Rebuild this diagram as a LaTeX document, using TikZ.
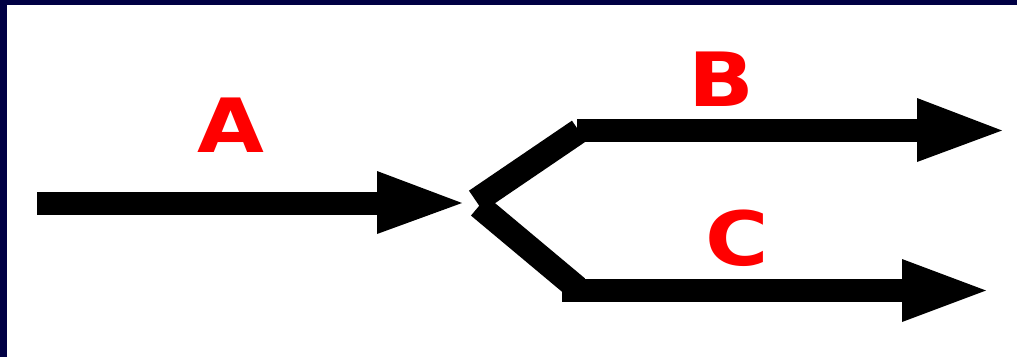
\documentclass[tikz,border=0pt]{standalone}
\usepackage{fontspec}
\setmainfont{DejaVu Sans}
\definecolor{navy}{RGB}{0,0,68}
\begin{document}
\begin{tikzpicture}[x=1pt,y=-1pt,
  shaft/.style={line width=23pt},
  diag/.style={line width=25pt},
  head/.style={fill=black},
  lbl/.style={text=red,inner sep=0pt,xscale=1.2,yscale=1.04,font=\fontsize{72}{72}\selectfont\bfseries}]
\useasboundingbox (0,0) rectangle (1017,357);
\fill[white] (0,0) rectangle (1017,357);
\fill[navy] (0,0) rectangle (1017,5);
\fill[navy] (0,0) rectangle (7,357);
% arrow A
\coordinate (a0) at (37,203);
\coordinate (a1) at (378,203);
\draw[shaft] (a0) -- (a1);
\fill[head] (377,171) -- (462,203) -- (377,234) -- cycle;
% upper branch
\coordinate (u0) at (476,201);
\coordinate (u1) at (579,131);
\coordinate (u2) at (577,130);
\coordinate (u3) at (918,130);
\draw[diag] (u0) -- (u1);
\draw[shaft] (u2) -- (u3);
\fill[head] (917,98) -- (1002,130.5) -- (917,162) -- cycle;
% lower branch
\coordinate (l0) at (479,206);
\coordinate (l1) at (577,288);
\coordinate (l2) at (562,290.5);
\coordinate (l3) at (903,290.5);
\draw[diag] (l0) -- (l1);
\draw[shaft] (l2) -- (l3);
\fill[head] (902,259) -- (986,290.5) -- (902,322) -- cycle;
% labels
\node[lbl] (A) at (230.5,125) {A};
\node[lbl] (B) at (721,79) {B};
\node[lbl] (C) at (737,238) {C};
\end{tikzpicture}
\end{document}
